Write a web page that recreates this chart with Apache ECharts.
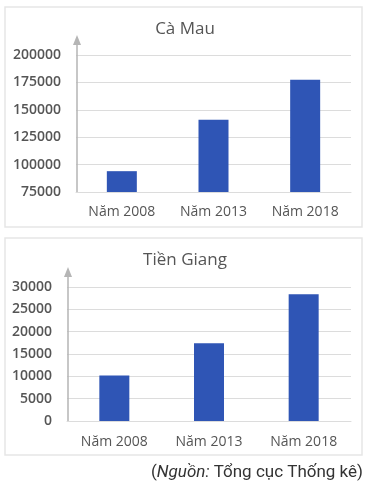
<!DOCTYPE html>
<html>
<head>
<meta charset="utf-8">
<script src="https://cdn.jsdelivr.net/npm/echarts@6/dist/echarts.min.js"></script>
<style>html,body{margin:0;padding:0;background:#fff}#c{width:381px;height:492px}</style>
</head>
<body>
<div id="c"></div>
<script>
const categories = ['Năm 2008', 'Năm 2013', 'Năm 2018'];
const caMauValues = [94000, 141000, 177500];
const tienGiangValues = [10200, 17400, 28400];
const caMauTicks = [75000, 200000, 25000];   // min, max, interval
const tienGiangTicks = [0, 30000, 5000];
const titles = ['Cà Mau', 'Tiền Giang'];

const chart = echarts.init(document.getElementById('c'));
const labelFont = {fontFamily: '"Open Sans"', fontSize: 14, color: '#555'};
const barColor = '#2f55b5';
const gridLine = {show: true, lineStyle: {color: '#dcdcdc', width: 1}};

function xAx(gi, margin) {
  return {type: 'category', gridIndex: gi, data: categories,
    axisLine: {show: true, lineStyle: {color: '#dcdcdc'}}, axisTick: {show: false},
    axisLabel: Object.assign({margin: margin}, labelFont)};
}
function yAx(gi, t) {
  return {type: 'value', gridIndex: gi, min: t[0], max: t[1], interval: t[2],
    axisLine: {show: false}, axisTick: {show: false}, splitLine: gridLine,
    axisLabel: Object.assign({margin: 15, formatter: v => String(v), fontWeight: 600}, labelFont)};
}

chart.setOption({
  animation: false,
  grid: [
    {left: 76, right: 30, top: 55, height: 137},
    {left: 67, right: 30, top: 287, height: 134}
  ],
  xAxis: [xAx(0, 13), xAx(1, 14)],
  yAxis: [yAx(0, caMauTicks), yAx(1, tienGiangTicks)],
  series: [
    {type: 'bar', xAxisIndex: 0, yAxisIndex: 0, data: caMauValues, barWidth: 30, itemStyle: {color: barColor}},
    {type: 'bar', xAxisIndex: 1, yAxisIndex: 1, data: tienGiangValues, barWidth: 30, itemStyle: {color: barColor}}
  ]
});

function arrow(yAxisIndex, minVal, maxVal, x) {
  const yb = chart.convertToPixel({yAxisIndex: yAxisIndex}, minVal);
  const yt = chart.convertToPixel({yAxisIndex: yAxisIndex}, maxVal) - 20;
  return [
    {type: 'line', z: 10, shape: {x1: x, y1: yb, x2: x, y2: yt + 8}, style: {stroke: '#b5b5b5', lineWidth: 1.5}},
    {type: 'polygon', z: 10, shape: {points: [[x - 4, yt + 10], [x, yt], [x + 4, yt + 10]]}, style: {fill: '#b5b5b5'}}
  ];
}

const g = [
  {type: 'rect', z: -10, shape: {x: 5, y: 7, width: 357, height: 220}, style: {fill: '#fff', stroke: '#e6e6e6', lineWidth: 1.5}},
  {type: 'rect', z: -10, shape: {x: 5, y: 238, width: 357, height: 217}, style: {fill: '#fff', stroke: '#e6e6e6', lineWidth: 1.5}},
  {type: 'text', z: 10, x: 185, y: 29, style: {text: titles[0], font: '17px "Open Sans"', fill: '#555', textAlign: 'center', textVerticalAlign: 'middle'}},
  {type: 'text', z: 10, x: 185, y: 260, style: {text: titles[1], font: '17px "Open Sans"', fill: '#555', textAlign: 'center', textVerticalAlign: 'middle'}},
  {type: 'text', z: 10, x: 363, y: 473, style: {
    text: '({i|Nguồn:} Tổng cục Thống kê)', textAlign: 'right', textVerticalAlign: 'middle',
    font: '17px Roboto', fill: '#333',
    rich: {i: {fontStyle: 'italic', fontSize: 17, fontFamily: 'Roboto', fill: '#333'}}
  }}
].concat(arrow(0, caMauTicks[0], caMauTicks[1], 77), arrow(1, tienGiangTicks[0], tienGiangTicks[1], 68));

chart.setOption({graphic: g});
</script>
</body>
</html>
